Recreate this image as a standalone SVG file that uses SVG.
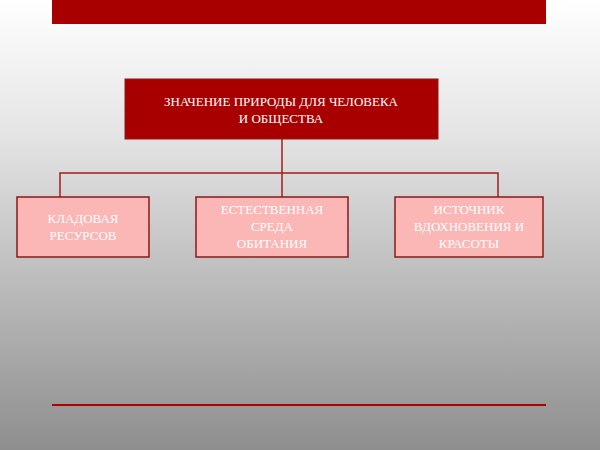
<svg xmlns="http://www.w3.org/2000/svg" width="600" height="450" viewBox="0 0 600 450">
<defs>
<linearGradient id="bg" x1="0" y1="0" x2="0" y2="1">
<stop offset="0" stop-color="#ffffff"/>
<stop offset="0.3" stop-color="#e4e4e4"/>
<stop offset="1" stop-color="#8e8e8e"/>
</linearGradient>
<style>
.sub rect{fill:#fbb6b6;stroke:#8b1a1a;stroke-width:1.5}
text{font-family:"Liberation Serif",serif;font-size:13px;fill:#fff;text-anchor:middle}
.c{stroke:#a51c1c;stroke-width:1.5;fill:none}
</style>
</defs>
<rect width="600" height="450" fill="url(#bg)"/>
<rect x="52" y="0" width="494" height="24" fill="#a80000"/>
<line x1="52" y1="405" x2="546" y2="405" stroke="#b00000" stroke-width="2"/>
<g id="connectors" class="c">
<path d="M282 139V173M60 197V173H498V197M282 173V197"/>
</g>
<g id="main">
<rect x="125" y="79" width="313" height="60" fill="#a80000" stroke="#8b1a1a"/>
<text x="281" y="106">ЗНАЧЕНИЕ ПРИРОДЫ ДЛЯ ЧЕЛОВЕКА</text>
<text x="281" y="123">И ОБЩЕСТВА</text>
</g>
<g id="n1" class="sub">
<rect x="17" y="197" width="132" height="60"/>
<text x="83" y="223">КЛАДОВАЯ</text>
<text x="83" y="240">РЕСУРСОВ</text>
</g>
<g id="n2" class="sub">
<rect x="196" y="197" width="152" height="60"/>
<text x="272" y="214">ЕСТЕСТВЕННАЯ</text>
<text x="272" y="231">СРЕДА</text>
<text x="272" y="248">ОБИТАНИЯ</text>
</g>
<g id="n3" class="sub">
<rect x="395" y="197" width="148" height="60"/>
<text x="469" y="214">ИСТОЧНИК</text>
<text x="469" y="231">ВДОХНОВЕНИЯ И</text>
<text x="469" y="248">КРАСОТЫ</text>
</g>
</svg>
